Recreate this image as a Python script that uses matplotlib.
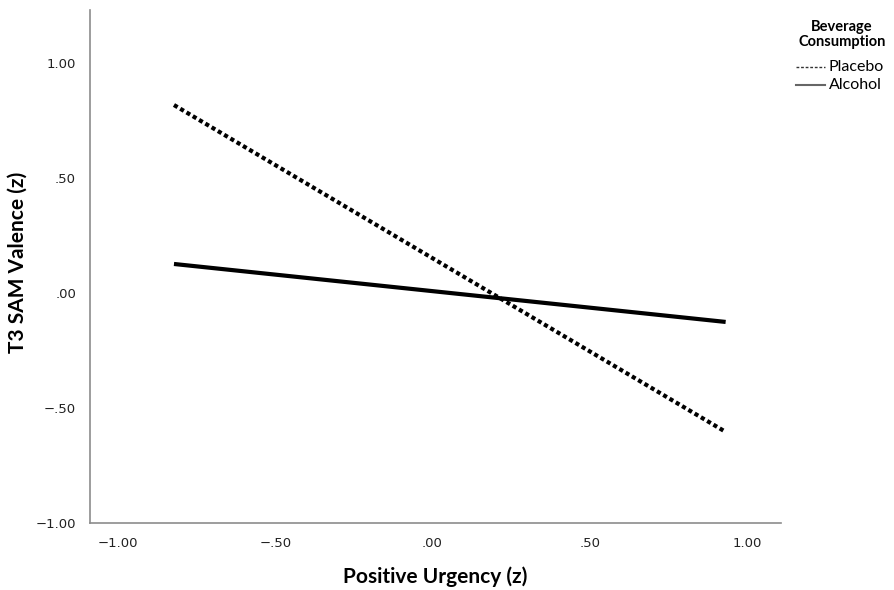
import matplotlib.pyplot as plt
from matplotlib.lines import Line2D

# data
x_vals = [-0.822, 0.932]
placebo = [0.817, -0.604]
alcohol = [0.126, -0.126]
xticks = [-1.0, -0.5, 0.0, 0.5, 1.0]
xticklabels = ["\u22121.00", "\u2212.50", ".00", ".50", "1.00"]
yticks = [-1.0, -0.5, 0.0, 0.5, 1.0]
yticklabels = ["\u22121.00", "\u2212.50", ".00", ".50", "1.00"]
legend_title = ["Beverage", "Consumption"]
legend_labels = ["Placebo", "Alcohol"]

W, H = 894, 590
fig = plt.figure(figsize=(W/100, H/100), dpi=100)
ax = fig.add_axes([90/W, 67/H, (781-90)/W, (523-10)/H])

ax.plot(x_vals, placebo, color="black", lw=3.0, linestyle=(0, (1, 0.75)),
        dash_capstyle="butt", solid_capstyle="butt")
ax.plot(x_vals, alcohol, color="black", lw=3.0, solid_capstyle="butt")

ax.set_xlim(-1.089, 1.108)
ax.set_ylim(-1.0, 1.23)
ax.set_xticks(xticks)
ax.set_xticklabels(xticklabels)
ax.set_yticks(yticks)
ax.set_yticklabels(yticklabels)
ax.tick_params(length=0, labelsize=9.5, labelcolor="#222222")
ax.tick_params(axis="x", pad=10)
ax.tick_params(axis="y", pad=10)

for s in ["top", "right"]:
    ax.spines[s].set_visible(False)
for s in ["left", "bottom"]:
    ax.spines[s].set_color("#8c8c8c")
    ax.spines[s].set_linewidth(1.2)

ax.set_xlabel("Positive Urgency (z)", fontsize=15, fontweight="bold",
              family="Lato", labelpad=12)
fig.text(18/W, 1 - 262/H, "T3 SAM Valence (z)", rotation=90, fontsize=15,
         fontweight="bold", family="Lato", ha="center", va="center")

# legend drawn outside the axes, top right
fig.text(842/W, 1 - 27/H, legend_title[0], fontsize=10.5, fontweight="bold",
         family="Lato", ha="center", va="center")
fig.text(842/W, 1 - 42/H, legend_title[1], fontsize=10.5, fontweight="bold",
         family="Lato", ha="center", va="center")
styles = [dict(color="#333333", lw=1, linestyle=(0, (2, 1.3))),
          dict(color="#666666", lw=1.5)]
for i, (lab, st) in enumerate(zip(legend_labels, styles)):
    yy = 1 - (67 + 18*i)/H
    fig.add_artist(Line2D([796/W, 825/W], [yy, yy], transform=fig.transFigure, **st))
    fig.text(829/W, yy, lab, fontsize=11.5, family="Lato", ha="left", va="center")

fig.savefig("out.png", dpi=100)
